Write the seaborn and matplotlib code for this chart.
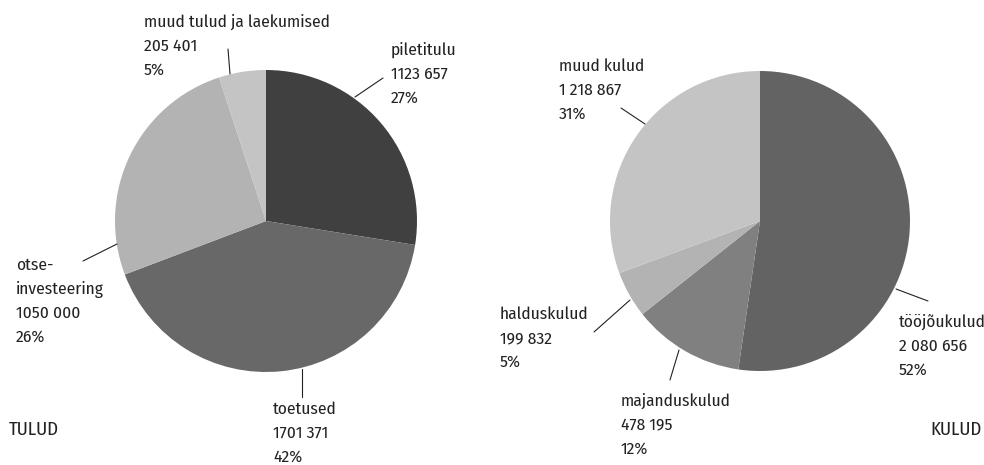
import matplotlib
matplotlib.use("Agg")
import matplotlib.pyplot as plt
import seaborn as sns

# income (TULUD)
tulud_names = ["piletitulu", "toetused", "otse-\ninvesteering", "muud tulud ja laekumised"]
tulud_values = [1123657, 1701371, 1050000, 205401]
tulud_amounts = ["1123 657", "1701 371", "1050 000", "205 401"]
tulud_pct = ["27%", "42%", "26%", "5%"]

# expenses (KULUD)
kulud_names = ["tööjõukulud", "majanduskulud", "halduskulud", "muud kulud"]
kulud_values = [2080656, 478195, 199832, 1218867]
kulud_amounts = ["2 080 656", "478 195", "199 832", "1 218 867"]
kulud_pct = ["52%", "12%", "5%", "31%"]

tulud_colors = sns.color_palette(["#404040", "#686868", "#b3b3b3", "#c4c4c4"])
kulud_colors = sns.color_palette(["#636363", "#808080", "#b3b3b3", "#c4c4c4"])

sns.set_theme(style="white")
plt.rcParams['font.family'] = ['Fira Sans Condensed', 'PT Sans Narrow', 'DejaVu Sans']

W, H = 984, 465
fig = plt.figure(figsize=(W / 100, H / 100), dpi=100)
ax = fig.add_axes([0, 0, 1, 1])


def py(y):
    # pixel row (from top) to data y
    return H - y


ax.pie(tulud_values, colors=tulud_colors, startangle=90, counterclock=False,
       center=(266, py(221)), radius=151, wedgeprops=dict(linewidth=0))
ax.pie(kulud_values, colors=kulud_colors, startangle=90, counterclock=False,
       center=(760, py(221)), radius=150, wedgeprops=dict(linewidth=0))
ax.set_xlim(0, W)
ax.set_ylim(0, H)
ax.set_aspect("equal")
ax.axis("off")

fs = 12.5
step = 24
ink = "#222222"
# label anchor (left x, first baseline y) and leader line (x0, y0, x1, y1)
tulud_pos = [(391, 55), (273, 414), (16, 270), (144, 27)]
tulud_lines = [(355, 97, 383, 78), (302, 369, 302, 397), (117, 244, 83, 261), (230, 74, 228, 49)]
kulud_pos = [(899, 327), (621, 406), (500, 319), (559, 71)]
kulud_lines = [(896, 289, 928, 301), (679, 350, 670, 380), (630, 300, 594, 332), (645, 124, 621, 108)]

for names, amounts, pcts, pos, lines in [
        (tulud_names, tulud_amounts, tulud_pct, tulud_pos, tulud_lines),
        (kulud_names, kulud_amounts, kulud_pct, kulud_pos, kulud_lines)]:
    for name, amt, pct, (x, y), (x0, y0, x1, y1) in zip(names, amounts, pcts, pos, lines):
        rows = name.split("\n") + [amt, pct]
        for k, row in enumerate(rows):
            ax.text(x, py(y + k * step), row, fontsize=fs, color=ink,
                    ha="left", va="baseline")
        ax.plot([x0, x1], [py(y0), py(y1)], color=ink, linewidth=0.8)

ax.text(9, py(435), "TULUD", fontsize=13.5, color=ink, ha="left", va="baseline")
ax.text(982, py(435), "KULUD", fontsize=13.5, color=ink, ha="right", va="baseline")

fig.savefig("out.png", dpi=100)
